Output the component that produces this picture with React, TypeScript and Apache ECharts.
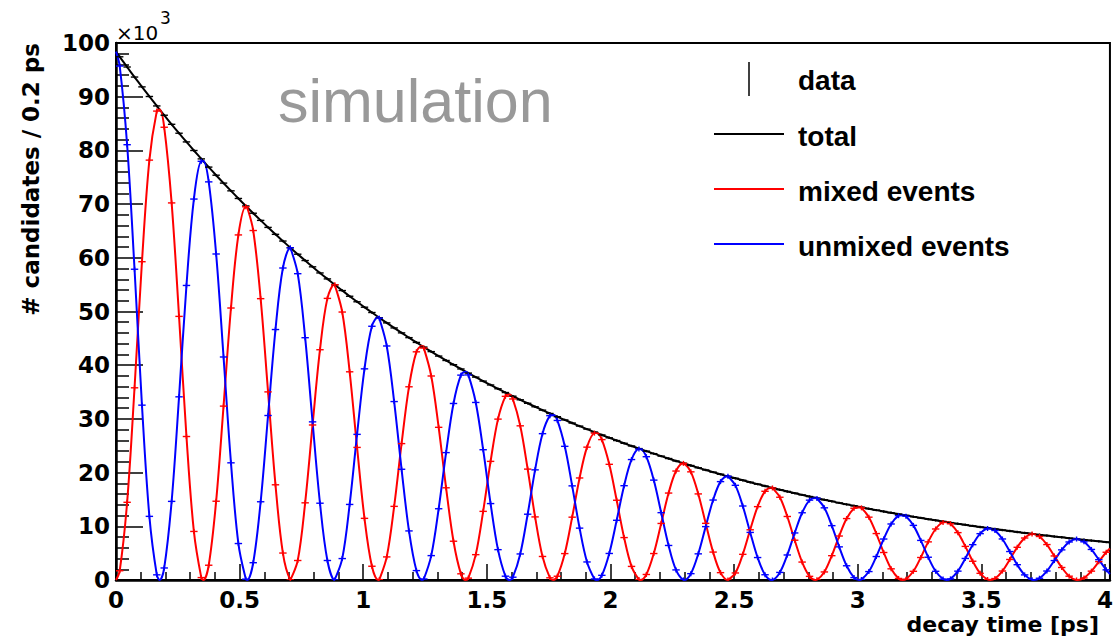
import React, { useEffect, useRef } from "react";
import * as echarts from "echarts";

// ---------------- data (values in units of 10^3 candidates) ----------------
const BIN_WIDTH = 0.03; // ps, histogram bin width
const X_MAX = 4.02;
const Y_MAX = 100;

const totalData = [
  97.43, 95.53, 93.66, 91.83, 90.04, 88.28, 86.55, 84.86, 83.2, 81.58,
  79.98, 78.42, 76.89, 75.38, 73.91, 72.47, 71.05, 69.66, 68.3, 66.97,
  65.66, 64.37, 63.12, 61.88, 60.67, 59.49, 58.32, 57.18, 56.07, 54.97,
  53.9, 52.84, 51.81, 50.8, 49.81, 48.83, 47.88, 46.94, 46.02, 45.13,
  44.24, 43.38, 42.53, 41.7, 40.88, 40.09, 39.3, 38.53, 37.78, 37.04,
  36.32, 35.61, 34.91, 34.23, 33.56, 32.91, 32.26, 31.63, 31.01, 30.41,
  29.81, 29.23, 28.66, 28.1, 27.55, 27.01, 26.48, 25.97, 25.46, 24.96,
  24.47, 24.0, 23.53, 23.07, 22.62, 22.17, 21.74, 21.32, 20.9, 20.49,
  20.09, 19.7, 19.31, 18.94, 18.57, 18.2, 17.85, 17.5, 17.16, 16.82,
  16.49, 16.17, 15.85, 15.54, 15.24, 14.94, 14.65, 14.36, 14.08, 13.81,
  13.54, 13.27, 13.01, 12.76, 12.51, 12.27, 12.03, 11.79, 11.56, 11.33,
  11.11, 10.9, 10.68, 10.47, 10.27, 10.07, 9.87, 9.68, 9.49, 9.3,
  9.12, 8.94, 8.77, 8.6, 8.43, 8.27, 8.1, 7.95, 7.79, 7.64,
  7.49, 7.34, 7.2, 7.06,
];

const mixedData = [
  1.72, 14.47, 35.79, 59.27, 78.19, 87.32, 84.31, 70.22, 49.09, 26.72,
  9.04, 0.45, 2.75, 14.67, 32.38, 50.65, 64.26, 69.5, 65.08, 52.39,
  35.03, 17.73, 5.02, 0.02, 3.63, 14.37, 28.87, 42.88, 52.44, 54.97,
  49.9, 38.77, 24.69, 11.48, 2.56, 0.07, 4.3, 13.71, 25.4, 35.98,
  42.49, 43.19, 37.99, 28.43, 17.17, 7.22, 1.15, 0.35, 4.72, 12.78,
  22.09, 29.96, 34.2, 33.71, 28.71, 20.65, 11.75, 4.38, 0.41, 0.7,
  4.92, 11.7, 19.0, 24.74, 27.35, 26.14, 21.54, 14.85, 7.9, 2.53,
  0.08, 1.03, 4.93, 10.53, 16.19, 20.29, 21.72, 20.14, 16.03, 10.55,
  5.2, 1.37, 0.0, 1.31, 4.78, 9.35, 13.66, 16.52, 17.14, 15.41,
  11.83, 7.41, 3.34, 0.68, 0.05, 1.5, 4.53, 8.19, 11.44, 13.36,
  13.44, 11.7, 8.65, 5.12, 2.08, 0.29, 0.15, 1.62, 4.19, 7.1,
  9.5, 10.73, 10.47, 8.82, 6.26, 3.49, 1.24, 0.09, 0.27, 1.67,
  3.82, 6.09, 7.82, 8.56, 8.1, 6.6, 4.48, 2.33, 0.71, 0.01,
  0.38, 1.65, 3.42, 5.17,
];

const unmixedData = [
  95.71, 81.06, 57.87, 32.56, 11.85, 0.96, 2.24, 14.64, 34.11, 54.85,
  70.94, 77.97, 74.14, 60.71, 41.53, 21.82, 6.79, 0.16, 3.22, 14.57,
  30.63, 46.64, 58.1, 61.86, 57.04, 45.12, 29.45, 14.3, 3.63, 0.0,
  3.99, 14.07, 27.12, 39.32, 47.25, 48.76, 43.58, 33.23, 20.62, 9.14,
  1.75, 0.19, 4.54, 13.27, 23.72, 32.87, 38.15, 38.19, 33.06, 24.26,
  14.23, 5.65, 0.71, 0.52, 4.85, 12.25, 20.51, 27.25, 30.6, 29.71,
  24.89, 17.53, 9.66, 3.36, 0.2, 0.87, 4.94, 11.12, 17.56, 22.43,
  24.39, 22.96, 18.6, 12.54, 6.43, 1.88, 0.02, 1.18, 4.87, 9.94,
  14.89, 18.32, 19.31, 17.63, 13.78, 8.86, 4.18, 0.98, 0.01, 1.41,
  4.66, 8.76, 12.52, 14.87, 15.19, 13.44, 10.12, 6.17, 2.65, 0.45,
  0.1, 1.57, 4.37, 7.63, 10.43, 11.98, 11.87, 10.17, 7.37, 4.24,
  1.62, 0.17, 0.21, 1.65, 4.01, 6.58, 8.63, 9.59, 9.22, 7.64,
  5.3, 2.85, 0.95, 0.04, 0.33, 1.67, 3.62, 5.61, 7.08, 7.63,
  7.11, 5.69, 3.78, 1.89,
];

// fit curve anchor points (oscillation extrema and range end)
const fitT = [
  0, 0.1768, 0.3536, 0.5304, 0.7072, 0.884, 1.0608, 1.2376, 1.4144, 1.5911,
  1.7679, 1.9447, 2.1215, 2.2983, 2.4751, 2.6519, 2.8287, 3.0055, 3.1823,
  3.3591, 3.5359, 3.7127, 3.8895, 4.02,
];
const fitTotal = [
  98.4, 87.6, 77.98, 69.41, 61.79, 55.01, 48.97, 43.59, 38.8, 34.54,
  30.75, 27.37, 24.37, 21.69, 19.31, 17.19, 15.3, 13.62, 12.13,
  10.79, 9.61, 8.55, 7.61, 6.99,
];
const fitMixed = [
  0, 87.6, 0, 69.41, 0, 55.01, 0, 43.59, 0, 34.54,
  0, 27.37, 0, 21.69, 0, 17.19, 0, 13.62, 0,
  10.79, 0, 8.55, 0, 5.87,
];
const fitUnmixed = [
  98.4, 0, 77.98, 0, 61.79, 0, 48.97, 0, 38.8, 0,
  30.75, 0, 24.37, 0, 19.31, 0, 15.3, 0, 12.13,
  0, 9.61, 0, 7.61, 1.12,
];

const legendLabels = ["data", "total", "mixed events", "unmixed events"];
const seriesColors = { total: "#000000", mixed: "#ff0000", unmixed: "#0000ff" };

// ---------------------------------------------------------------------------
const binCenters = totalData.map((_, i) => Math.round((i + 0.5) * BIN_WIDTH * 10000) / 10000);
const toPairs = (xs: number[], ys: number[]) => xs.map((x, i) => [x, ys[i]]);
const curve = (ys: number[], fitYs: number[]) =>
  [...toPairs(binCenters, ys), ...toPairs(fitT, fitYs)].sort((a, b) => a[0] - b[0]);

const BOLD = "DejaVu Sans";

export default function App() {
  const ref = useRef<HTMLDivElement>(null);

  useEffect(() => {
    const chart = echarts.init(ref.current!, null, { renderer: "svg" });

    const lineSeries = (name: string, data: number[][], color: string) => ({
      type: "line",
      name,
      data,
      showSymbol: false,
      smooth: 0.35,
      clip: true,
      silent: true,
      z: 2,
      lineStyle: { color, width: 2 },
    });

    const crossSeries = (name: string, ys: number[], color: string, halfErr: number) => ({
      type: "custom",
      name,
      data: toPairs(binCenters, ys),
      clip: true,
      silent: true,
      z: 3,
      renderItem: (_params: any, api: any) => {
        const x = api.value(0);
        const y = api.value(1);
        const a = api.coord([x - BIN_WIDTH / 2, y]);
        const b = api.coord([x + BIN_WIDTH / 2, y]);
        const c = api.coord([x, y]);
        return {
          type: "group",
          children: [
            {
              type: "line",
              shape: { x1: a[0], y1: a[1], x2: b[0], y2: b[1] },
              style: { stroke: color, lineWidth: 1.4 },
            },
            {
              type: "line",
              shape: { x1: c[0], y1: c[1] - halfErr, x2: c[0], y2: c[1] + halfErr },
              style: { stroke: color, lineWidth: 1.4 },
            },
          ],
        };
      },
    });

    const legendLine = (y: number, color: string) => ({
      type: "line",
      shape: { x1: 714, y1: y, x2: 784, y2: y },
      style: { stroke: color, lineWidth: 2 },
    });
    const legendText = (text: string, y: number) => ({
      type: "text",
      x: 798,
      y,
      style: {
        text,
        fill: "#000",
        font: "bold 28px 'Liberation Sans'",
        align: "left",
        verticalAlign: "middle",
      },
    });

    chart.setOption({
      animation: false,
      backgroundColor: "#ffffff",
      grid: {
        left: 116,
        right: 2,
        top: 43,
        bottom: 62,
        show: true,
        borderColor: "#000",
        borderWidth: 2,
        containLabel: false,
      },
      xAxis: {
        type: "value",
        min: 0,
        max: X_MAX,
        interval: 0.5,
        axisLine: { show: true, onZero: false, lineStyle: { color: "#000", width: 2.5 } },
        axisTick: { show: true, inside: true, length: 16, interval: 0, lineStyle: { color: "#000", width: 1.5 } },
        minorTick: { show: true, splitNumber: 5, length: 8, lineStyle: { color: "#000", width: 1.5 } },
        splitLine: { show: false },
        minorSplitLine: { show: false },
        axisLabel: {
          interval: 0,
          margin: 8,
          color: "#000",
          fontFamily: BOLD,
          fontWeight: "bold",
          fontSize: 23,
          formatter: (v: number) =>
            Math.abs(v * 2 - Math.round(v * 2)) < 1e-6 ? String(Math.round(v * 10) / 10) : "",
        },
      },
      yAxis: {
        type: "value",
        min: 0,
        max: Y_MAX,
        interval: 10,
        axisLine: { show: true, onZero: false, lineStyle: { color: "#000", width: 2.5 } },
        axisTick: { show: true, inside: true, length: 27, lineStyle: { color: "#000", width: 1.5 } },
        minorTick: { show: true, splitNumber: 5, length: 13, lineStyle: { color: "#000", width: 1.5 } },
        splitLine: { show: false },
        minorSplitLine: { show: false },
        axisLabel: {
          margin: 6,
          color: "#000",
          fontFamily: BOLD,
          fontWeight: "bold",
          fontSize: 23,
        },
      },
      series: [
        lineSeries("total", curve(totalData, fitTotal), seriesColors.total),
        lineSeries("mixed events", curve(mixedData, fitMixed), seriesColors.mixed),
        lineSeries("unmixed events", curve(unmixedData, fitUnmixed), seriesColors.unmixed),
        crossSeries("data total", totalData, seriesColors.total, 1.2),
        crossSeries("data mixed", mixedData, seriesColors.mixed, 2.5),
        crossSeries("data unmixed", unmixedData, seriesColors.unmixed, 2.5),
      ],
      graphic: [
        {
          type: "text",
          x: 116,
          y: 33,
          style: { text: "×10", fill: "#000", font: "20px 'DejaVu Sans'", align: "left", verticalAlign: "middle" },
        },
        {
          type: "text",
          x: 160,
          y: 18,
          style: { text: "3", fill: "#000", font: "17px 'DejaVu Sans'", align: "left", verticalAlign: "middle" },
        },
        {
          type: "text",
          x: 31,
          y: 43,
          rotation: Math.PI / 2,
          style: {
            text: "# candidates / 0.2 ps",
            fill: "#000",
            font: "bold 23px 'DejaVu Sans'",
            align: "right",
            verticalAlign: "middle",
          },
        },
        {
          type: "text",
          x: 1099,
          y: 624,
          style: {
            text: "decay time [ps]",
            fill: "#000",
            font: "bold 22px 'DejaVu Sans'",
            align: "right",
            verticalAlign: "middle",
          },
        },
        {
          type: "text",
          x: 278,
          y: 101,
          style: {
            text: "simulation",
            fill: "#999999",
            font: "61px 'Liberation Sans'",
            align: "left",
            verticalAlign: "middle",
          },
        },
        {
          type: "line",
          shape: { x1: 749, y1: 62, x2: 749, y2: 96 },
          style: { stroke: "#000", lineWidth: 1.5 },
        },
        legendText(legendLabels[0], 80),
        legendLine(134, seriesColors.total),
        legendText(legendLabels[1], 136),
        legendLine(189, seriesColors.mixed),
        legendText(legendLabels[2], 191),
        legendLine(244, seriesColors.unmixed),
        legendText(legendLabels[3], 246),
      ],
    });

    return () => chart.dispose();
  }, []);

  return (
    <div
      ref={ref}
      style={{ position: "absolute", left: 0, top: 0, width: 1116, height: 642 }}
    />
  );
}
